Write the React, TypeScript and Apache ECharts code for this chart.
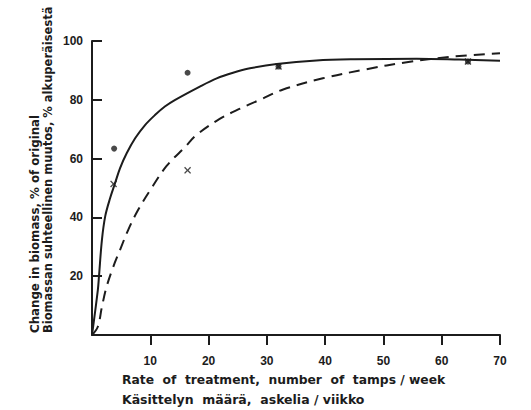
import React, { useEffect, useRef } from "react";
import * as echarts from "echarts";

// Data
const solidCurve: [number, number][] = [
  [0, 0], [1.0, 15.3], [1.2, 20], [1.7, 32.3], [2.28, 40.5], [3.1, 46.5],
  [3.95, 51.6], [4.8, 56.7], [5.95, 61.8], [7.4, 66.9], [9.1, 71.4],
  [10.8, 74.8], [12.5, 77.7], [14.2, 79.9], [18.5, 84.5], [21.4, 87.3],
  [24.2, 89.2], [27.1, 90.7], [31.7, 92.2], [38.5, 93.4], [45, 93.8],
  [55.7, 94.0], [63, 93.7], [70, 93.3],
];
const dashedCurve: [number, number][] = [
  [0, 0], [1, 2.8], [1.7, 9.6], [2.5, 16.4], [3.65, 23.2], [4.8, 28.9],
  [6.2, 35.7], [7.9, 42.5], [10, 49.3], [12.8, 57.5], [16, 64],
  [17.9, 68], [21.9, 73.5], [25.4, 77], [28.8, 80], [32.8, 83.5],
  [39.6, 87.3], [47.1, 90.4], [54, 92.8], [61.4, 94.6], [70, 95.8],
];
const dotPoints: [number, number][] = [
  [3.8, 63.4], [16.4, 89.2], [32, 91.3], [64.5, 93],
];
const crossPoints: [number, number][] = [
  [3.7, 51.4], [16.4, 56], [32, 91.3], [64.5, 93],
];
const xTicks = [10, 20, 30, 40, 50, 60, 70];
const yTicks = [20, 40, 60, 80, 100];
const yTitleLines = [
  "Change in biomass, % of original",
  "Biomassan suhteellinen muutos, % alkuperäisestä",
];
const xTitleLines = [
  "Rate  of  treatment,  number  of  tamps / week",
  "Käsittelyn  määrä,  askelia / viikko",
];

const INK = "#1c1c1c";
const FONT = "'DejaVu Sans', sans-serif";
const NUMFONT = "'Liberation Sans', Arial, sans-serif";
const CROSS =
  "path://M0,1.4 L1.4,0 L5,3.6 L8.6,0 L10,1.4 L6.4,5 L10,8.6 L8.6,10 L5,6.4 L1.4,10 L0,8.6 L3.6,5 Z";

export default function App() {
  const ref = useRef<HTMLDivElement>(null);
  useEffect(() => {
    if (!ref.current) return;
    const chart = echarts.init(ref.current, null, { renderer: "svg" });
    chart.setOption({
      animation: false,
      backgroundColor: "#ffffff",
      grid: { left: 92, right: 31, top: 41, bottom: 75, containLabel: false },
      xAxis: {
        type: "value",
        min: 0,
        max: 70,
        interval: 10,
        splitLine: { show: false },
        axisLine: { lineStyle: { color: INK, width: 2 } },
        axisTick: {
          show: true,
          inside: false,
          length: 10,
          lineStyle: { color: INK, width: 2 },
          customValues: xTicks,
        },
        axisLabel: {
          customValues: xTicks,
          margin: 20,
          color: INK,
          fontFamily: NUMFONT,
          fontWeight: "bold",
          fontSize: 12,
        },
      },
      yAxis: {
        type: "value",
        min: 0,
        max: 100,
        interval: 20,
        splitLine: { show: false },
        axisLine: { show: true, lineStyle: { color: INK, width: 2 } },
        axisTick: {
          show: true,
          inside: true,
          length: 10,
          lineStyle: { color: INK, width: 2 },
          customValues: yTicks,
        },
        axisLabel: {
          customValues: yTicks,
          margin: 9,
          color: INK,
          fontFamily: NUMFONT,
          fontWeight: "bold",
          fontSize: 12,
        },
      },
      series: [
        {
          type: "line",
          data: solidCurve,
          smooth: 0.35,
          showSymbol: false,
          lineStyle: { color: INK, width: 2 },
        },
        {
          type: "line",
          data: dashedCurve,
          smooth: 0.35,
          showSymbol: false,
          lineStyle: { color: INK, width: 2, type: [11, 7] },
        },
        {
          type: "scatter",
          data: dotPoints,
          symbol: "circle",
          symbolSize: 6,
          itemStyle: { color: INK },
        },
        {
          type: "scatter",
          data: crossPoints,
          symbol: CROSS,
          symbolSize: 7,
          itemStyle: { color: INK },
        },
      ],
      graphic: [
        {
          type: "text",
          x: 35,
          y: 333,
          rotation: Math.PI / 2,
          style: {
            text: yTitleLines[0],
            fill: INK,
            font: `bold 11.8px ${FONT}`,
            textAlign: "left",
            textVerticalAlign: "middle",
          },
        },
        {
          type: "text",
          x: 48,
          y: 333,
          rotation: Math.PI / 2,
          style: {
            text: yTitleLines[1],
            fill: INK,
            font: `bold 11.5px ${FONT}`,
            textAlign: "left",
            textVerticalAlign: "middle",
          },
        },
        {
          type: "text",
          x: 122,
          y: 380,
          style: {
            text: xTitleLines[0],
            fill: INK,
            font: `bold 12.3px ${FONT}`,
            textAlign: "left",
            textVerticalAlign: "middle",
          },
        },
        {
          type: "text",
          x: 122,
          y: 399,
          style: {
            text: xTitleLines[1],
            fill: INK,
            font: `bold 12.5px ${FONT}`,
            textAlign: "left",
            textVerticalAlign: "middle",
          },
        },
      ],
    });
    return () => chart.dispose();
  }, []);
  return (
    <div
      ref={ref}
      style={{ position: "fixed", left: 0, top: 0, width: 531, height: 410 }}
    />
  );
}
